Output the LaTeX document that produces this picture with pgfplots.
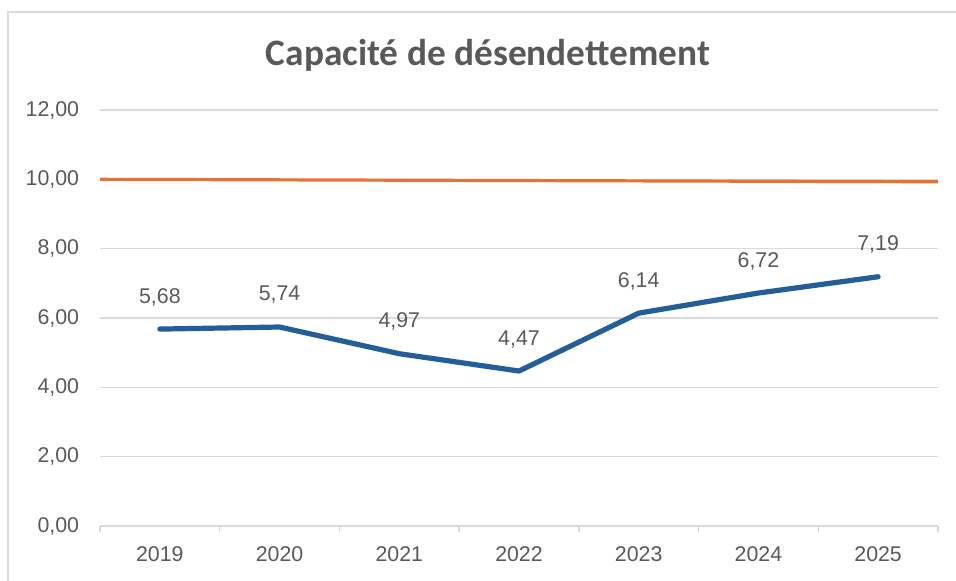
\documentclass[border=0pt]{standalone}
\usepackage{pgfplots}
\pgfplotsset{compat=1.18}
\usepackage{fontspec}
\setmainfont{Liberation Sans}
\newfontfamily\titlefont{Carlito}
\definecolor{txtgray}{HTML}{595959}
\definecolor{gridgray}{HTML}{D9D9D9}
\definecolor{lineblue}{HTML}{235E99}
\definecolor{lineorange}{HTML}{E97132}
\begin{document}
\begin{tikzpicture}
\path[use as bounding box] (0,0) rectangle (717pt,435.75pt);
\draw[gridgray, line width=1.5pt] (6pt,0) -- (6pt,426.75pt) -- (717pt,426.75pt);
\node[anchor=base, font=\titlefont\fontsize{28pt}{32pt}\selectfont\bfseries, text=txtgray] at (366pt,386.25pt) {Capacité de désendettement};
\begin{axis}[
  at={(75pt,41.25pt)}, anchor=south west,
  scale only axis, width=628.5pt, height=312pt,
  xmin=-0.5, xmax=6.5, ymin=0, ymax=12,
  clip=false,
  axis x line*=bottom, axis y line*=left,
  x axis line style={draw=gridgray, line width=1.1pt, -},
  y axis line style={draw=none},
  xtick={0,1,2,3,4,5,6},
  xticklabels={2019,2020,2021,2022,2023,2024,2025},
  minor xtick={-0.5,0.5,1.5,2.5,3.5,4.5,5.5,6.5},
  ytick={0,2,4,6,8,10,12},
  yticklabels={{0,00},{2,00},{4,00},{6,00},{8,00},{10,00},{12,00}},
  major tick length=0pt,
  minor tick length=4.5pt,
  tick align=outside,
  minor tick style={draw=gridgray, line width=1.1pt},
  ymajorgrids, grid style={draw=gridgray, line width=1.1pt},
  tick label style={font=\fontsize{16pt}{19pt}\selectfont, text=txtgray},
  yticklabel style={anchor=east, inner sep=0pt, xshift=-15.5pt},
  xticklabel style={anchor=north, inner sep=0pt, yshift=-15.5pt},
  /pgf/number format/assume math mode=true,
]
\addplot[lineorange, line width=2.4pt] coordinates {(-0.5,10.00) (6.5,9.93)};
\addplot[lineblue, line width=3.9pt, line cap=round, line join=round,
  nodes near coords, point meta=explicit symbolic,
  every node near coord/.style={anchor=center, yshift=24pt, font=\fontsize{16pt}{19pt}\selectfont, text=txtgray}]
  coordinates {
  (0,5.68) [5,68]
  (1,5.74) [5,74]
  (2,4.97) [4,97]
  (3,4.47) [4,47]
  (4,6.14) [6,14]
  (5,6.72) [6,72]
  (6,7.19) [7,19]
};
\end{axis}
\end{tikzpicture}
\end{document}
